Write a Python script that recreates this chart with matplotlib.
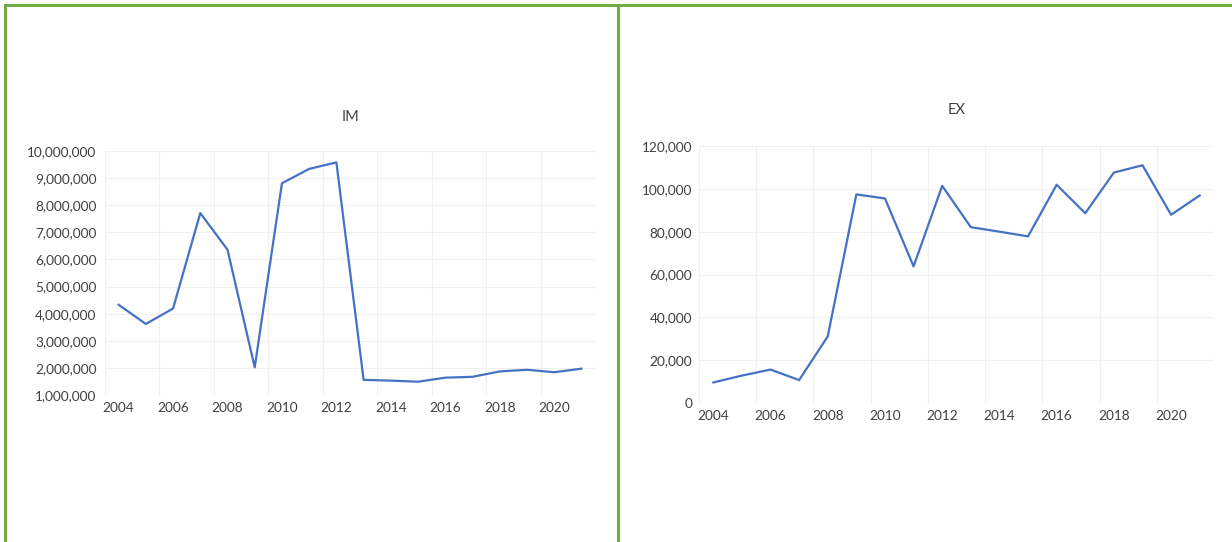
import numpy as np
import matplotlib.pyplot as plt
from matplotlib.lines import Line2D
from matplotlib.ticker import FuncFormatter

plt.rcParams['font.family'] = ['Lato', 'DejaVu Sans']

years = list(range(2004, 2022))

# IM values
im_values = [4330000, 3620000, 4190000, 7710000, 6360000, 2020000,
             8810000, 9340000, 9580000, 1560000, 1530000, 1490000,
             1640000, 1670000, 1870000, 1930000, 1840000, 1970000]

# EX values
ex_values = [9600, 12800, 15600, 10700, 31100, 97400, 95500, 63800,
             101400, 82100, 80000, 77800, 101900, 88600, 107600, 111000,
             87900, 96900]

year_ticks = list(range(2004, 2021, 2))
im_ticks = list(range(1000000, 10000001, 1000000))
ex_ticks = list(range(0, 120001, 20000))

W, H = 1232, 542
line_color = '#4472C4'
text_color = '#404040'
grid_color = '#F0F0F0'
green = '#70AD47'


def px_axes(fig, left, top, right, bottom):
    return fig.add_axes([left / W, 1 - bottom / H, (right - left) / W, (bottom - top) / H])


def style_axes(ax, yticks, ylim, ypad):
    ax.set_xlim(2003.5, 2021.5)
    ax.set_ylim(*ylim)
    for s in ax.spines.values():
        s.set_visible(False)
    ax.set_xticks(year_ticks)
    ax.set_xticklabels([str(y) for y in year_ticks])
    ax.set_yticks(yticks)
    ax.yaxis.set_major_formatter(FuncFormatter(lambda v, p: f'{int(v):,}'))
    ax.tick_params(axis='x', length=0, pad=5, labelsize=9.8, labelcolor=text_color)
    ax.tick_params(axis='y', length=0, pad=ypad, labelsize=9.8, labelcolor=text_color)
    # horizontal grid at each value tick, vertical grid between categories
    for v in yticks:
        ax.axhline(v, color=grid_color, lw=0.8, zorder=0)
    for x in np.arange(2003.5, 2022, 2):
        ax.axvline(x, color=grid_color, lw=0.8, zorder=0)


fig = plt.figure(figsize=(W / 100, H / 100), dpi=100)

ax0 = px_axes(fig, 105, 151, 595, 395)
ax0.plot(years, im_values, color=line_color, lw=1.6, zorder=3)
style_axes(ax0, im_ticks, (1000000, 10000000), 6)
fig.text(350 / W, 1 - 117 / H, 'IM', ha='center', va='center', fontsize=10.5, color=text_color)

ax1 = px_axes(fig, 699, 146, 1214, 403)
ax1.plot(years, ex_values, color=line_color, lw=1.6, zorder=3)
style_axes(ax1, ex_ticks, (0, 120000), 5)
fig.text(957 / W, 1 - 110 / H, 'EX', ha='center', va='center', fontsize=10.5, color=text_color)

# green panel borders
for xs, ys in [((5, W), (5, 5)), ((5, 5), (5, H)), ((618, 618), (5, H))]:
    fig.add_artist(Line2D([x / W for x in xs], [1 - y / H for y in ys],
                          color=green, lw=2.2, transform=fig.transFigure))

fig.savefig('out.png', dpi=100)
